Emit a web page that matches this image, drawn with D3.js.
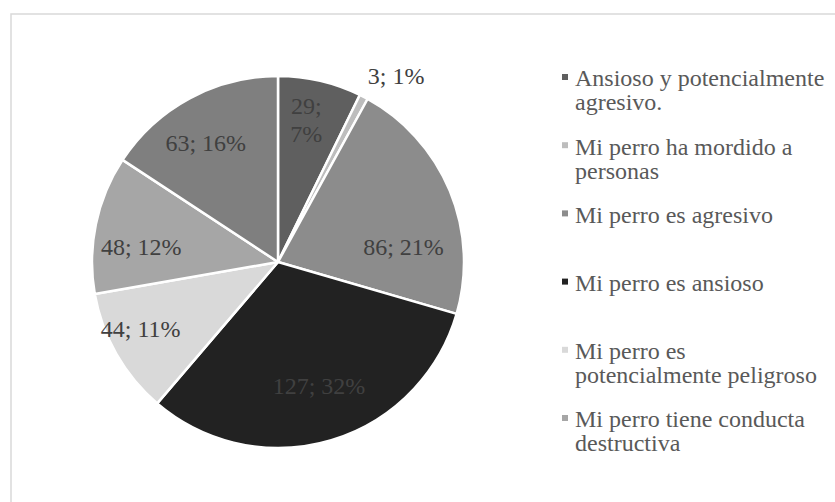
<!DOCTYPE html>
<html>
<head>
<meta charset="utf-8">
<script src="https://cdn.jsdelivr.net/npm/d3@7"></script>
<style>
  html, body { margin: 0; padding: 0; background: #ffffff; }
  svg { display: block; }
</style>
</head>
<body>
<svg id="chart" width="835" height="502"></svg>
<script>
// Respuestas por categoría de conducta
const categories = [
  "Ansioso y potencialmente agresivo.",
  "Mi perro ha mordido a personas",
  "Mi perro es agresivo",
  "Mi perro es ansioso",
  "Mi perro es potencialmente peligroso",
  "Mi perro tiene conducta destructiva",
  "Otra conducta"
];
const counts = [29, 3, 86, 127, 44, 48, 63];
const percents = [7, 1, 21, 32, 11, 12, 16];

// Legend lines (wrapped as in the legend box); only the first six entries are listed
const legendLines = [
  ["Ansioso y potencialmente", "agresivo."],
  ["Mi perro ha mordido a", "personas"],
  ["Mi perro es agresivo"],
  ["Mi perro es ansioso"],
  ["Mi perro es", "potencialmente peligroso"],
  ["Mi perro tiene conducta", "destructiva"]
];

const fills = ["#5f5f5f", "#bdbdbd", "#8c8c8c", "#222222", "#d9d9d9", "#a6a6a6", "#7f7f7f"];

const svg = d3.select("#chart");
const W = 835, H = 502;

// outer chart frame
svg.append("rect")
  .attr("x", 11).attr("y", 14)
  .attr("width", W).attr("height", H)
  .attr("fill", "none")
  .attr("stroke", "#d9d9d9")
  .attr("stroke-width", 1.5);

const cx = 278, cy = 262, R = 186;

const pie = d3.pie().value(d => d).sort(null);
const arcs = pie(counts);
const arc = d3.arc().innerRadius(0).outerRadius(R);

const g = svg.append("g").attr("transform", `translate(${cx},${cy})`);

g.selectAll("path.slice")
  .data(arcs)
  .join("path")
  .attr("class", "slice")
  .attr("d", arc)
  .attr("fill", (d, i) => fills[i])
  .attr("stroke", "#ffffff")
  .attr("stroke-width", 2.5)
  .attr("stroke-linejoin", "round");

// label placement per slice: position along the slice's sweep (0 = start, 1 = end)
// and distance from the centre as a fraction of the radius
const labelSweep = [0.43, 2.33, 0.70, 0.485, 0.60, 0.38, 0.45];
const labelRadius = [0.78, 1.185, 0.68, 0.70, 0.82, 0.74, 0.75];
const fontSize = 24;
const fontFamily = "'Liberation Serif', 'Times New Roman', serif";
const labelColor = "#404040";

arcs.forEach((d, i) => {
  const a = d.startAngle + (d.endAngle - d.startAngle) * labelSweep[i];
  const r = R * labelRadius[i];
  const x = Math.sin(a) * r, y = -Math.cos(a) * r;
  const t = g.append("text")
    .attr("x", x).attr("y", y)
    .attr("text-anchor", "middle")
    .attr("font-family", fontFamily)
    .attr("font-size", fontSize)
    .attr("fill", labelColor);
  if (i === 0) {
    // narrow slice: value and percent on two lines
    t.append("tspan").attr("x", x).attr("dy", "-0.22em").text(`${counts[i]};`);
    t.append("tspan").attr("x", x).attr("dy", "1.14em").text(`${percents[i]}%`);
  } else {
    t.attr("dy", "0.35em").text(`${counts[i]}; ${percents[i]}%`);
  }
});

// legend
const legX = 562, legY0 = 78, legStep = 68.2, lineH = 24;
const leg = svg.append("g");
legendLines.forEach((lines, i) => {
  const y = legY0 + i * legStep;
  leg.append("rect")
    .attr("x", legX).attr("y", y - 4)
    .attr("width", 6).attr("height", 6)
    .attr("fill", fills[i]);
  const t = leg.append("text")
    .attr("font-family", fontFamily)
    .attr("font-size", fontSize)
    .attr("fill", "#595959");
  lines.forEach((s, k) => {
    t.append("tspan")
      .attr("x", legX + 13)
      .attr("y", y + k * lineH)
      .attr("dy", "0.35em")
      .text(s);
  });
});
</script>
</body>
</html>
